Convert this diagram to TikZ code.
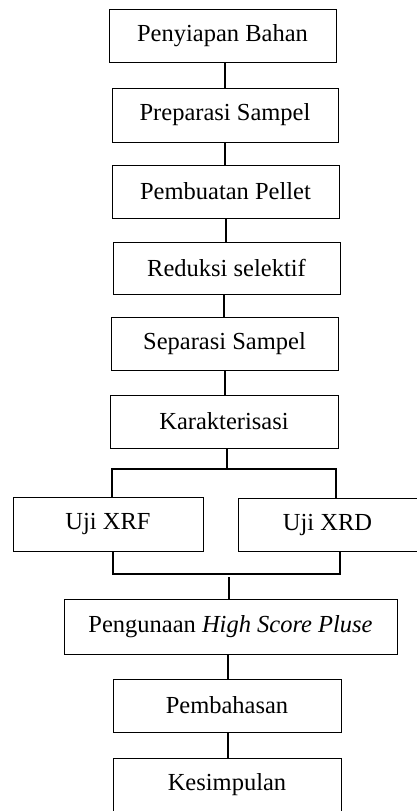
\documentclass[tikz,border=0pt]{standalone}
\usepackage{fontspec}
\setmainfont{Liberation Serif}
\begin{document}
\begin{tikzpicture}[x=1pt,y=-1pt,
  box/.style={draw,line width=1pt,inner sep=0pt,font=\fontsize{24.5}{29}\selectfont},
  conn/.style={line width=1.5pt}]
\useasboundingbox (0,0) rectangle (417,811);
\clip (0,0) rectangle (417,811);
\newcommand\bx[6]{\node[box,minimum width=#4-#2,minimum height=#5-#3] (#1) at ({(#2+#4)/2},{(#3+#5)/2}) {#6};}
\newcommand\vc[3]{\draw[conn] (#1.south -| #3,0) -- (#2.north -| #3,0);}
\bx{b1}{109}{9}{336}{62}{Penyiapan Bahan}
\bx{b2}{112}{88}{338}{142}{Preparasi Sampel}
\bx{b3}{112}{165}{339}{218}{Pembuatan Pellet}
\bx{b4}{113}{242}{340}{294}{Reduksi selektif}
\bx{b5}{111}{317}{338}{370}{Separasi Sampel}
\bx{b6}{110}{395}{338}{448}{Karakterisasi}
\bx{xrf}{13}{497}{203}{551}{Uji XRF}
\bx{xrd}{238}{498}{417}{551}{Uji XRD}
\bx{hsp}{64}{599}{397}{654}{Pengunaan \textit{High Score Pluse}}
\bx{b8}{113}{679}{341}{732}{Pembahasan}
\bx{b9}{113}{758}{341}{840}{}
\node[font=\fontsize{24.5}{29}\selectfont] (t9) at (227,784.5) {Kesimpulan};
\vc{b1}{b2}{225}
\vc{b2}{b3}{225}
\vc{b3}{b4}{226}
\vc{b4}{b5}{224}
\vc{b5}{b6}{225}
\coordinate (j1) at (227,469);
\coordinate (jl) at (112,469);
\coordinate (jr) at (336,469);
\draw[conn] (b6.south -| j1) -- (j1);
\draw[conn] (jl |- xrf.north) -- (jl) -- (jr) -- (jr |- xrd.north);
\coordinate (kl) at (113,574);
\coordinate (kr) at (340,574);
\draw[conn] (kl |- xrf.south) -- (kl) -- (kr) -- (kr |- xrd.south);
\coordinate (k2) at (229,577);
\draw[conn] (k2) -- (k2 |- hsp.north);
\vc{hsp}{b8}{228}
\vc{b8}{b9}{228}
\end{tikzpicture}
\end{document}
